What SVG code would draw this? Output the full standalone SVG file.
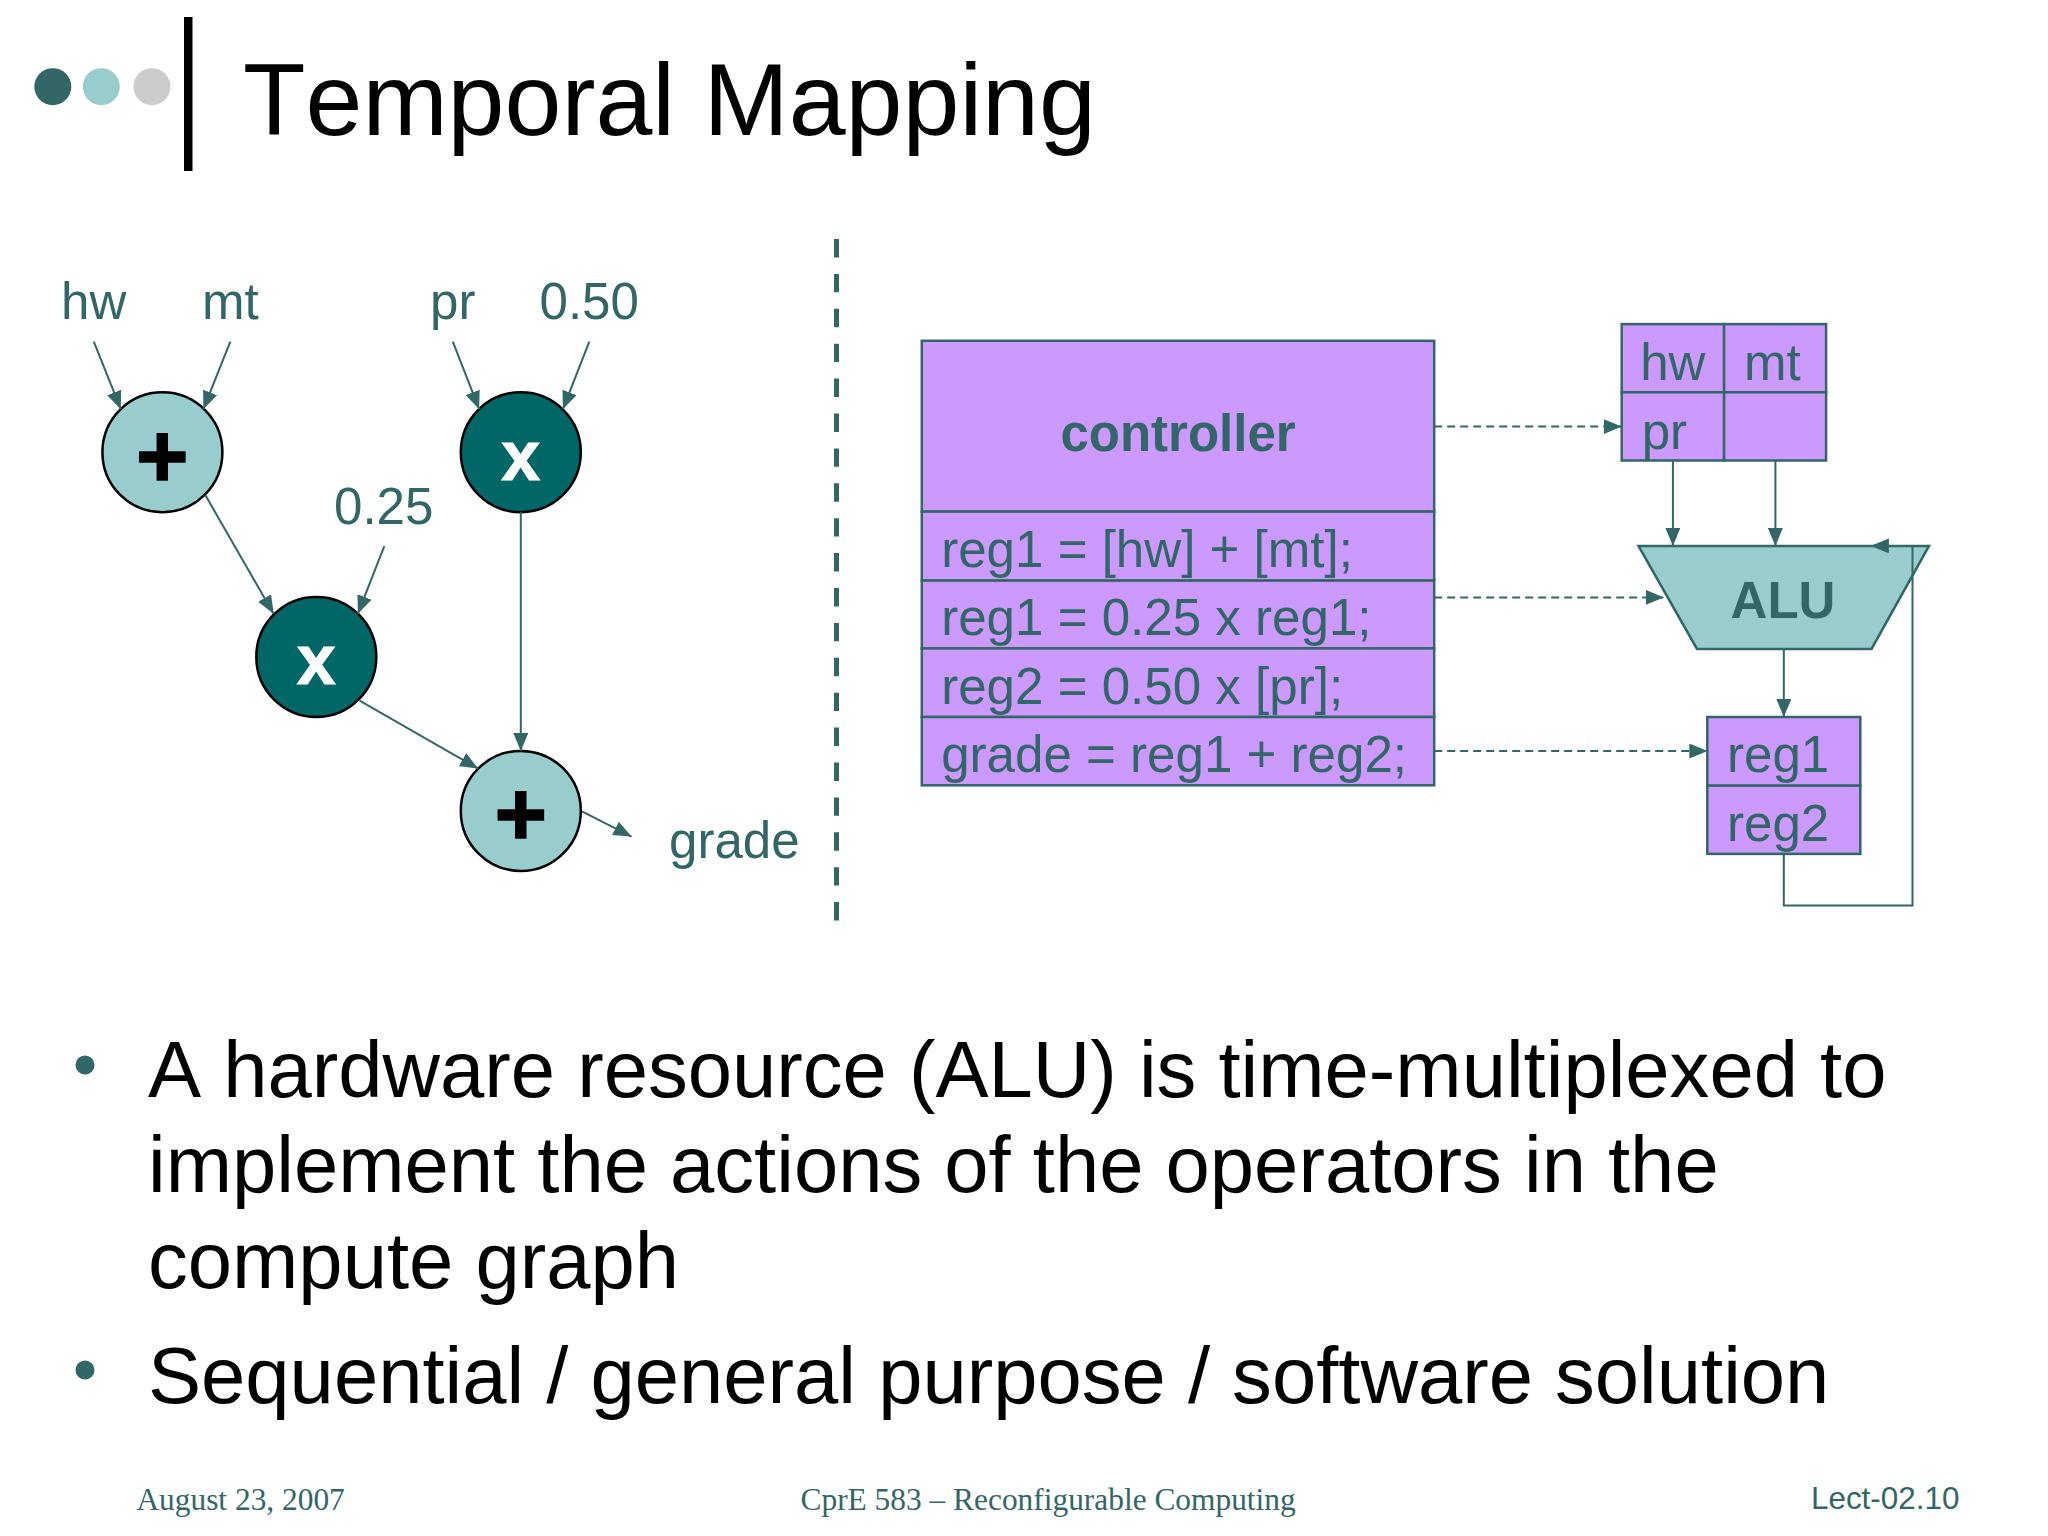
<svg xmlns="http://www.w3.org/2000/svg" width="2048" height="1536" viewBox="0 0 2048 1536">
<style>
text{font-family:"Liberation Sans",Arial,sans-serif}
.t{font-size:51.1px;fill:#336666}
.b{font-size:51px;fill:#336666;font-weight:bold;text-anchor:middle}
.body{font-size:79.6px;fill:#000;font-kerning:none}
.foot{font-family:"Liberation Serif",serif;font-size:31.4px;fill:#336666}
.box{fill:#CC99FF;stroke:#336666;stroke-width:2.5}
.lite{fill:#99CCCC;stroke:#000;stroke-width:2.5}
.dark{fill:#006666;stroke:#000;stroke-width:2.5}
.c{fill:none;stroke:#336666;stroke-width:2;marker-end:url(#a)}
.d{fill:none;stroke:#336666;stroke-width:2;stroke-dasharray:8 5;marker-end:url(#a)}
.op{font-size:90px;font-weight:bold;text-anchor:middle;stroke:#000;stroke-width:1.5}
.x{font-size:70px;font-weight:bold;fill:#fff;text-anchor:middle;stroke:#fff;stroke-width:1}
</style>
<defs><marker id="a" viewBox="0 0 18 15" refX="18" refY="7.5" markerUnits="userSpaceOnUse" markerWidth="18" markerHeight="15" orient="auto"><path d="M0 0L18 7.5L0 15z" fill="#336666"/></marker></defs>
<rect width="2048" height="1536" fill="#fff"/>
<g id="header">
<circle cx="52.8" cy="86.7" r="18.5" fill="#336666"/><circle cx="101.3" cy="86.7" r="18.5" fill="#99CCCC"/><circle cx="151.9" cy="86.7" r="18.5" fill="#CCCCCC"/>
<rect x="184" y="17" width="8.5" height="154"/>
<text x="243" y="135" font-size="102.3" style="font-kerning:none">Temporal Mapping</text>
</g>
<g id="divider"><line x1="836.5" y1="239" x2="836.5" y2="922" stroke="#336666" stroke-width="5" stroke-dasharray="18.4 16.5"/></g>
<g id="add1"><circle class="lite" cx="162.4" cy="452.2" r="60"/><text class="op" x="162.4" y="486.5">+</text></g>
<g id="mul1"><circle class="dark" cx="520.8" cy="452.2" r="60"/><text class="x" x="520.8" y="479.5">x</text></g>
<g id="mul2"><circle class="dark" cx="316.3" cy="656.9" r="60"/><text class="x" x="316.3" y="684">x</text></g>
<g id="add2"><circle class="lite" cx="520.8" cy="810.9" r="60"/><text class="op" x="520.8" y="845">+</text></g>
<g id="labels">
<text class="t" x="61" y="319.3">hw</text><text class="t" x="202" y="319.3">mt</text><text class="t" x="430" y="319.3">pr</text><text class="t" x="539.5" y="319.3">0.50</text>
<text class="t" x="334" y="524">0.25</text><text class="t" x="669" y="857.5">grade</text>
</g>
<g id="controller">
<rect class="box" x="921.8" y="340.8" width="512.4" height="170.8"/>
<rect class="box" x="921.8" y="511.6" width="512.4" height="69"/>
<rect class="box" x="921.8" y="580.6" width="512.4" height="67.8"/>
<rect class="box" x="921.8" y="648.4" width="512.4" height="68.6"/>
<rect class="box" x="921.8" y="717" width="512.4" height="68.3"/>
<text class="b" x="1178" y="451.3">controller</text>
<text class="t" x="941.2" y="566.8">reg1 = [hw] + [mt];</text>
<text class="t" x="941.2" y="635">reg1 = 0.25 x reg1;</text>
<text class="t" x="941.2" y="703.7">reg2 = 0.50 x [pr];</text>
<text class="t" x="941.2" y="771.9">grade = reg1 + reg2;</text>
</g>
<g id="regfile">
<rect class="box" x="1621.7" y="324.1" width="102.4" height="68.2"/><rect class="box" x="1724.1" y="324.1" width="102" height="68.2"/>
<rect class="box" x="1621.7" y="392.3" width="102.4" height="68.2"/><rect class="box" x="1724.1" y="392.3" width="102" height="68.2"/>
<text class="t" x="1640.2" y="379.7">hw</text><text class="t" x="1744" y="379.7">mt</text><text class="t" x="1641.7" y="448.7">pr</text>
</g>
<g id="alu"><path d="M1638.5 545.9H1929L1871.5 648.9H1697z" fill="#99CCCC" stroke="#336666" stroke-width="2.5"/><text class="b" x="1783" y="618">ALU</text></g>
<g id="regs">
<rect class="box" x="1707.3" y="717" width="153" height="68.7"/><rect class="box" x="1707.3" y="785.7" width="153" height="68.2"/>
<text class="t" x="1727" y="771.9">reg1</text><text class="t" x="1727" y="840.5">reg2</text>
</g>
<g id="connectors">
<path class="c" d="M93.8 341.7L120.8 409.2"/><path class="c" d="M230.3 341.7L203.4 409.2"/>
<path class="c" d="M452.8 341.7L479.2 409.2"/><path class="c" d="M589.3 341.7L562.9 409.2"/>
<path class="c" d="M384.3 546.2L357.9 613.7"/>
<path class="c" d="M205.6 495.6L273.6 613.7"/><path class="c" d="M359.6 700.6L478.1 768.6"/>
<path class="c" d="M520.8 512.2V751"/><path class="c" d="M582 811.3L631.5 836.6"/>
<path class="d" d="M1434.2 426.6H1621.7"/><path class="d" d="M1434.2 597.4H1663.8"/><path class="d" d="M1434.2 751H1707.3"/>
<path class="c" d="M1672.9 460.5V545.9"/><path class="c" d="M1775.4 460.5V545.9"/><path class="c" d="M1783.8 648.9V717"/>
<path class="c" d="M1783.8 853.9V905.4H1912.5V545.9H1870.9"/>
</g>
<g id="bullets">
<circle cx="85" cy="1065" r="9.5" fill="#336666"/><circle cx="85" cy="1370" r="9.5" fill="#336666"/>
<text class="body" x="148" y="1097">A hardware resource (ALU) is time-multiplexed to</text>
<text class="body" x="148" y="1192">implement the actions of the operators in the</text>
<text class="body" x="148" y="1288">compute graph</text>
<text class="body" x="148" y="1403">Sequential / general purpose / software solution</text>
</g>
<g id="footer">
<text class="foot" x="136.4" y="1510">August 23, 2007</text>
<text class="foot" x="800.5" y="1510">CprE 583 – Reconfigurable Computing</text>
<text class="foot" x="1811" y="1509" style="font-family:'Liberation Sans',sans-serif">Lect-02.10</text>
</g>
</svg>
